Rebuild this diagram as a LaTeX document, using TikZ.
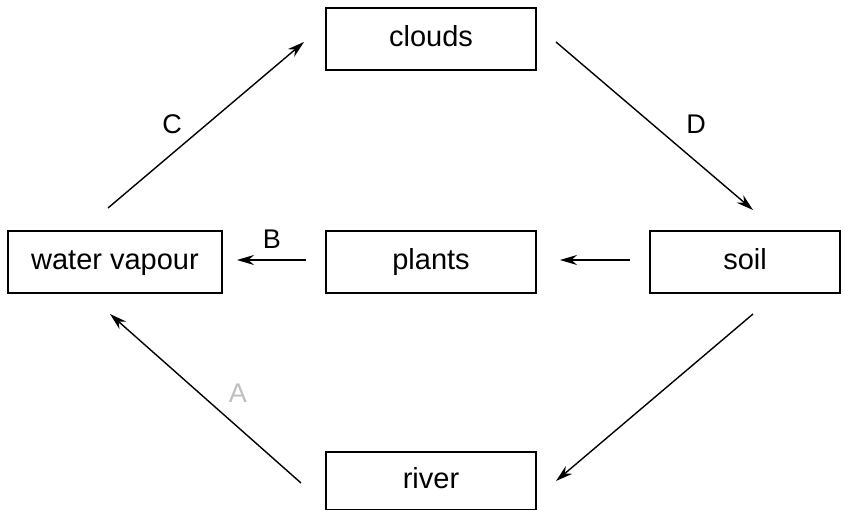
\documentclass[tikz,border=0pt]{standalone}
\usepackage{fontspec}
\setmainfont{Liberation Sans}
\usetikzlibrary{arrows.meta}
\begin{document}
\begin{tikzpicture}[x=1pt,y=-1pt,
  box/.style={draw=black,line width=1.1pt,rectangle,minimum height=62pt,inner sep=0pt,text height=21pt,text depth=6pt,font=\fontsize{29}{34}\selectfont},
  flow/.style={draw=black,line width=1.4pt,-{Stealth[length=17pt,width=10pt]}},
  lab/.style={font=\fontsize{27}{32}\selectfont}]
\useasboundingbox (0,0) rectangle (845,510);
\node[box,minimum width=210pt] (clouds) at (431,39) {clouds};
\node[box,minimum width=214pt] (wv) at (115,262) {water vapour};
\node[box,minimum width=210pt] (plants) at (431,262) {plants};
\node[box,minimum width=190pt] (soil) at (745,262) {soil};
\node[box,minimum width=210pt,minimum height=58pt] (river) at (431,481) {river};
\coordinate (c1) at (108,208);
\coordinate (c2) at (304,42);
\coordinate (d1) at (556,42);
\coordinate (d2) at (753,210);
\coordinate (b1) at (306,260);
\coordinate (b2) at (237,260);
\coordinate (p1) at (630,260);
\coordinate (p2) at (560,260);
\coordinate (s1) at (753,314);
\coordinate (s2) at (556,481);
\coordinate (r1) at (301,483);
\coordinate (r2) at (110,314);
\draw[flow] (c1) -- (c2);
\draw[flow] (d1) -- (d2);
\draw[flow] (b1) -- (b2);
\draw[flow] (p1) -- (p2);
\draw[flow] (s1) -- (s2);
\draw[flow] (r1) -- (r2);
\node[lab] (lC) at (172,124) {C};
\node[lab] (lD) at (696,124) {D};
\node[lab] (lB) at (272,239) {B};
\node[lab,text=black!25] (lA) at (238,393) {A};
\end{tikzpicture}
\end{document}
